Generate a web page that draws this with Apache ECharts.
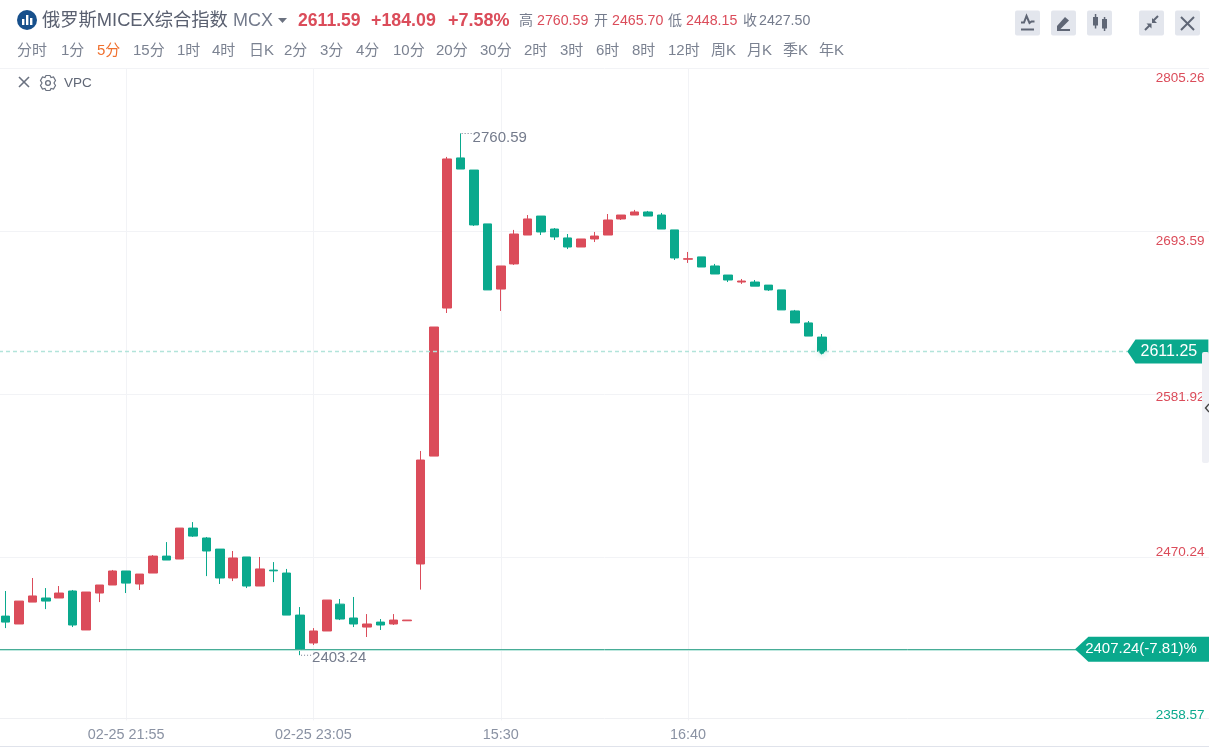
<!DOCTYPE html>
<html><head><meta charset="utf-8">
<style>html,body{margin:0;padding:0;background:#fff}#c{width:1209px;height:747px}</style>
<script src="https://cdn.jsdelivr.net/npm/echarts@6/dist/echarts.min.js"></script>
</head><body><div id="c"></div>
<script>
const times = ['02-25 21:10','02-25 21:15','02-25 21:20','02-25 21:25','02-25 21:30','02-25 21:35','02-25 21:40','02-25 21:45','02-25 21:50','02-25 21:55','02-25 22:00','02-25 22:05','02-25 22:10','02-25 22:15','02-25 22:20','02-25 22:25','02-25 22:30','02-25 22:35','02-25 22:40','02-25 22:45','02-25 22:50','02-25 22:55','02-25 23:00','02-25 23:05','02-25 23:10','02-25 23:15','02-25 23:20','02-25 23:25','02-25 23:30','02-25 23:35','02-25 23:40','15:00','15:05','15:10','15:15','15:20','15:25','15:30','15:35','15:40','15:45','15:50','15:55','16:00','16:05','16:10','16:15','16:20','16:25','16:30','16:35','16:40','16:45','16:50','16:55','17:00','17:05','17:10','17:15','17:20','17:25','17:30'];
const opens  = [2430.0,2424.6,2439.6,2442.4,2442.4,2447.2,2420.5,2445.8,2451.3,2460.9,2452.0,2459.5,2471.1,2469.1,2490.3,2483.5,2475.9,2456.1,2470.5,2450.6,2461.5,2459.5,2430.7,2411.6,2419.8,2438.2,2428.7,2422.5,2425.9,2424.6,2426.8,2465.70,2539.6,2641.0,2743.8,2735.5,2698.6,2654.0,2671.2,2691.0,2704.0,2695.1,2689.0,2682.8,2688.3,2691.0,2702.0,2704.7,2706.8,2704.7,2694.5,2674.4,2676.0,2669.8,2663.6,2658.8,2658.8,2656.7,2653.4,2639.0,2630.8,2621.1];
const closes = [2425.9,2440.3,2443.8,2440.3,2445.8,2423.9,2446.5,2451.3,2460.9,2452.6,2458.8,2471.1,2468.4,2490.3,2484.8,2474.6,2456.1,2469.8,2450.6,2462.3,2461.0,2430.7,2406.8,2419.8,2441.0,2428.0,2424.6,2424.6,2423.9,2427.3,2427.3,2536.9,2628.0,2743.1,2736.2,2697.9,2653.4,2669.8,2691.7,2702.0,2693.1,2689.7,2682.8,2688.3,2690.3,2701.3,2704.7,2706.8,2704.0,2695.1,2675.3,2674.8,2669.1,2664.3,2660.2,2659.5,2656.0,2653.4,2639.7,2630.8,2621.8,2611.25];
const lows   = [2421.8,2424.6,2439.6,2434.8,2442.4,2422.5,2420.5,2439.6,2451.3,2445.8,2447.9,2459.5,2468.4,2469.1,2484.2,2457.4,2452.0,2454.0,2449.2,2450.6,2453.3,2430.7,2403.24,2410.2,2419.8,2427.3,2422.5,2415.7,2420.5,2423.9,2426.8,2448.15,2539.6,2637.6,2736.2,2697.2,2653.4,2639.0,2670.5,2691.0,2691.0,2687.6,2681.4,2682.8,2686.2,2691.0,2701.3,2704.7,2704.0,2695.1,2673.9,2671.9,2669.1,2664.3,2658.8,2657.5,2656.0,2652.7,2639.7,2630.8,2621.8,2609.2];
const highs  = [2447.2,2440.3,2456.1,2449.2,2450.6,2447.9,2446.5,2451.3,2461.6,2460.9,2458.8,2471.8,2480.7,2490.3,2494.4,2484.2,2475.9,2474.6,2470.5,2470.5,2467.0,2462.3,2436.2,2421.8,2441.0,2441.7,2443.1,2431.4,2428.0,2431.4,2427.3,2543.1,2628.0,2744.5,2760.59,2735.5,2698.6,2669.8,2694.5,2704.7,2704.0,2695.8,2691.7,2688.3,2693.1,2705.4,2704.7,2708.2,2707.5,2706.1,2694.5,2679.4,2676.0,2671.2,2663.6,2660.9,2660.2,2656.7,2653.4,2639.7,2632.1,2623.2];
const blankSlots = 29;
const yTicks = [2358.57,2470.24,2581.92,2693.59,2805.26];
const yGridTicks = [2470.24,2581.92,2693.59,2805.26];
const xLabelIndex = [9,23,37,51];
const highValue = 2760.59, lowValue = 2403.24, lastPrice = 2611.25, prevClose = 2407.24;
const prevCloseLabel = '2407.24(-7.81)%';
const periods = ['分时','1分','5分','15分','1时','4时','日K','2分','3分','4分','10分','20分','30分','2时','3时','6时','8时','12时','周K','月K','季K','年K'];
const periodX = [17,61,97,133,177,212,249,284,320,356,393,436,480,524,560,596,632,668,711,747,783,819];

const RED='#db4c5a', GREEN='#0aa98d', GREY='#747b8c';
const FONT='"Liberation Sans","Noto Sans CJK SC",sans-serif';
const cats = times.concat(new Array(blankSlots).fill(0).map((_,i)=>'+'+(i+1)));
const candles = opens.map((o,i)=>[o,closes[i],lows[i],highs[i]]);
const labelShift = {2358.57:-10,2470.24:-10,2581.92:6,2693.59:20,2805.26:20};
const rich = {};
yTicks.forEach((v,i)=>{
  const s=labelShift[v];
  rich['t'+i]={fontSize:13.5,fontFamily:FONT,color:i===0?GREEN:RED,padding:s>0?[s,0,0,0]:[0,0,-s,0]};
});
const dots='path://M0 0h1v1H0z M3 0h1v1H3z M6 0h1v1H6z M9 0h1v1H9z';
const tag='path://M0 12L10 0H100V24H10Z';

const txt=(text,x,y,size,fill,weight)=>({type:'text',z:50,style:{text,x,y:y+1.2,fill,font:(weight||'normal')+' '+size+'px '+FONT,textVerticalAlign:'middle'}});
const rect=(x,y,w,h,fill,r)=>({type:'rect',z:50,shape:{x,y,width:w,height:h,r:r||0},style:{fill}});
const stroke=(pts,col,lw)=>({type:'polyline',z:52,shape:{points:pts},style:{fill:'none',stroke:col||'#5f6675',lineWidth:lw||2}});
const fillp=(pts,col)=>({type:'polygon',z:52,shape:{points:pts},style:{fill:col||'#5f6675'}});

const g=[
 {type:'circle',z:50,shape:{cx:27,cy:20,r:10},style:{fill:'#17508c'}},
 rect(22,19,2.4,6,'#fff'),rect(26,15,2.4,10,'#fff'),rect(30,18,2.4,7,'#fff'),
 txt('俄罗斯MICEX综合指数',42,20,18.3,'#5a6070'),
 txt('MCX',233,20,18,GREY),
 fillp([[278,18],[287,18],[282.5,23]],'#6b7280'),
 txt('2611.59',298,20,17.6,RED,'bold'),
 txt('+184.09',371,20,17.8,RED,'bold'),
 txt('+7.58%',448,20,18,RED,'bold'),
 txt('高',519,20,14,GREY),txt('2760.59',537,20,14.2,RED),
 txt('开',594,20,14,GREY),txt('2465.70',612,20,14.2,RED),
 txt('低',668,20,14,GREY),txt('2448.15',686,20,14.2,RED),
 txt('收',743,20,14,GREY),txt('2427.50',759,20,14.2,GREY),
 ...periods.map((p,i)=>txt(p,periodX[i],50,15,p==='5分'?'#f0702e':'#7b8291')),
 ...[1015,1051,1087,1139,1175].map(x=>rect(x,10.5,25,25,'#e3e6ed',2)),
 stroke([[1021,22.5],[1024,22.5],[1026.5,16],[1029.5,23],[1031.5,21.5],[1034.5,21.5]]),
 stroke([[1021,29.5],[1034,29.5]],null,2),
 fillp([[1057,26],[1065,17],[1069,20.5],[1060.5,29],[1057,29]]),
 stroke([[1057,30],[1070,30]],null,2),
 rect(1093,17,5,8.5,'#5f6675'),rect(1094.8,14,1.5,14.5,'#5f6675'),rect(1102,19,5,9.5,'#5f6675'),rect(1103.8,17,1.5,14,'#5f6675'),
 stroke([[1145,30],[1149.5,25.5]],null,2),fillp([[1146.5,23.5],[1151.5,23.5],[1151.5,28.5]]),
 stroke([[1158,16],[1153.5,20.5]],null,2),fillp([[1152,18],[1152,23],[1157,23]]),
 stroke([[1181,17],[1194,30]],null,2),stroke([[1194,17],[1181,30]],null,2),
 stroke([[19,77],[29,87]],'#6b7280',1.6),stroke([[29,77],[19,87]],'#6b7280',1.6),
 {type:'circle',z:52,shape:{cx:48,cy:83,r:2.4},style:{fill:'none',stroke:'#6b7280',lineWidth:1.3}},
 {type:'polygon',z:52,shape:{points:[[46,75.5],[50,75.5],[51,77.5],[53.5,77],[55.5,80.5],[54,83],[55.5,85.5],[53.5,89],[51,88.5],[50,90.5],[46,90.5],[45,88.5],[42.5,89],[40.5,85.5],[42,83],[40.5,80.5],[42.5,77],[45,77.5]]},style:{fill:'none',stroke:'#6b7280',lineWidth:1.2}},
 txt('VPC',64,82,13.5,'#5f6675'),
 rect(1202,352,7,111,'#eff0f5',2),
 stroke([[1209,404],[1205.5,408],[1209,412]],'#444',1.4),
 rect(0,746,1209,1,'#e0e3eb')
];

const chart=echarts.init(document.getElementById('c'),null,{renderer:'canvas'});
chart.setOption({
 animation:false,
 backgroundColor:'#fff',
 graphic:g,
 grid:{left:-1,top:68.2,width:1217.6,height:652.2,containLabel:false,outerBoundsMode:'none'},
 xAxis:{type:'category',data:cats,boundaryGap:true,offset:-2,
  axisLine:{show:true,lineStyle:{color:'#eff0f3'}},axisTick:{show:false},
  axisLabel:{interval:(i)=>xLabelIndex.includes(i),color:'#8a92a3',fontSize:14.4,fontFamily:FONT,margin:9,hideOverlap:false},
  splitLine:{show:true,alignWithLabel:true,interval:(i)=>xLabelIndex.includes(i),lineStyle:{color:'#f2f3f6',width:1}}},
 yAxis:{type:'value',position:'right',min:2358.57,max:2805.26,
  axisLine:{show:false},
  axisTick:{show:false,customValues:yGridTicks},
  axisLabel:{inside:true,margin:12,customValues:yTicks,align:'right',
    formatter:(v)=>{const i=yTicks.indexOf(v);return '{t'+i+'|'+v.toFixed(2)+'}';},rich},
  splitLine:{show:true,lineStyle:{color:'#f2f3f6',width:1}}},
 series:[{
  type:'candlestick',data:candles,barWidth:9,clip:false,
  itemStyle:{color:RED,color0:GREEN,borderColor:RED,borderColor0:GREEN,borderWidth:1},
  markLine:{silent:true,symbol:'none',animation:false,label:{show:false},data:[
    {yAxis:lastPrice,lineStyle:{color:'#b2e4da',type:[4,3],width:1.4}},
    {yAxis:prevClose,lineStyle:{color:'#47ad97',type:'solid',width:1,shadowColor:'#bfe8df',shadowBlur:0,shadowOffsetY:1}}
  ]},
  markPoint:{silent:true,animation:false,data:[
    {coord:[34,highValue],symbol:dots,symbolSize:[10,1],symbolOffset:[6,0],itemStyle:{color:'#777f90'},
      label:{show:true,position:'right',distance:1,offset:[0,4],formatter:String(highValue),color:GREY,fontSize:15,fontFamily:FONT}},
    {coord:[22,lowValue],symbol:dots,symbolSize:[10,1],symbolOffset:[6,0],itemStyle:{color:'#777f90'},
      label:{show:true,position:'right',distance:1,offset:[0,3],formatter:String(lowValue),color:GREY,fontSize:15,fontFamily:FONT}},
    {coord:[61,lastPrice],symbol:'circle',symbolSize:5,itemStyle:{color:'#0aa98d',shadowColor:'rgba(10,169,141,.5)',shadowBlur:6},label:{show:false}},
    {coord:[86,lastPrice],symbol:tag,symbolSize:[81,24],symbolOffset:[11.5,0],symbolKeepAspect:false,itemStyle:{color:GREEN},z:5,
      label:{show:true,position:'inside',offset:[1,0],formatter:lastPrice.toFixed(2),color:'#fff',fontSize:16,fontFamily:FONT}},
    {coord:[85,prevClose],symbol:tag,symbolSize:[134,25],symbolOffset:[-1,0],itemStyle:{color:GREEN},z:5,
      label:{show:true,position:'inside',offset:[-1,0],formatter:prevCloseLabel,color:'#fff',fontSize:15,fontFamily:FONT}}
  ]}
 }]
});
</script></body></html>
